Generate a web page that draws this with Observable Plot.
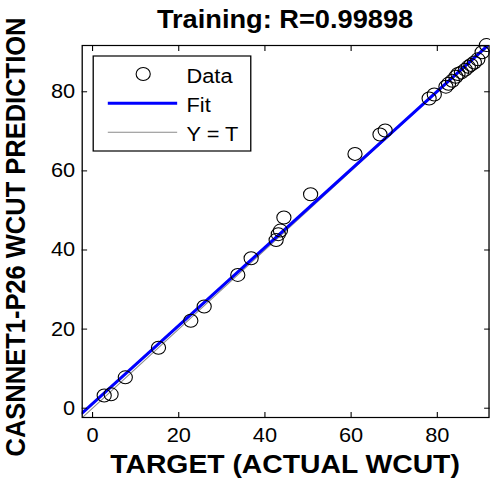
<!DOCTYPE html>
<html><head><meta charset="utf-8">
<script src="https://cdn.jsdelivr.net/npm/d3@7"></script>
<script src="https://cdn.jsdelivr.net/npm/@observablehq/plot@0.6"></script>
<style>body{margin:0;background:#fff} #chart svg{display:block}</style>
</head><body><div id="chart"></div>
<script>
// Data
const targets = [2.7, 4.3, 7.6, 15.3, 22.8, 25.9, 33.7, 36.8, 42.6, 43.1, 43.6, 44.4, 50.6, 60.9, 66.7, 67.9,
  78.1, 79.3, 82.0, 82.6, 83.5, 84.3, 84.8, 85.6, 86.5, 87.2, 87.8, 88.6, 89.4, 90.4, 91.4];
const outputs = [3.2, 3.5, 7.8, 15.3, 22.1, 25.7, 33.7, 37.9, 42.5, 44.0, 44.9, 48.2, 54.1, 64.3, 69.2, 70.2,
  78.3, 79.3, 81.3, 82.0, 82.8, 83.8, 84.5, 84.9, 85.6, 86.3, 86.8, 87.4, 88.2, 90.0, 91.8];
const fitCoef = [0.987, 1.17];          // Output ~= slope*Target + intercept
const xDomain = [-2.4, 92];
const yDomain = [-2.35, 91.7];
const xTicks = [0, 20, 40, 60, 80];
const yTicks = [0, 20, 40, 60, 80];
const titleText = "Training: R=0.99898";
const xLabel = "TARGET (ACTUAL WCUT)";
const yLabel = "CASNNET1-P26 WCUT PREDICTION";
const legendLabels = ["Data", "Fit", "Y = T"];

const points = targets.map((t, i) => ({t, y: outputs[i]}));
const fitLine = xDomain.map(t => ({t, y: fitCoef[0] * t + fitCoef[1]}));
const idLine = xDomain.map(t => ({t, y: t}));

const W = 450, H = 483, OUTW = 490;
const FONT = "'Liberation Sans', Arial, Helvetica, sans-serif";
const BLUE = "#0000ff", GRAY = "#8a8a8a";

const svg = Plot.plot({
  width: W, height: H,
  marginLeft: 75, marginRight: 1.4, marginTop: 45, marginBottom: 66,
  style: {fontFamily: FONT, fontSize: "20px", color: "black", background: "white", overflow: "visible"},
  x: {domain: xDomain},
  y: {domain: yDomain},
  marks: [
    Plot.line(idLine, {x: "t", y: "y", stroke: GRAY, strokeWidth: 1, clip: true}),
    Plot.line(fitLine, {x: "t", y: "y", stroke: BLUE, strokeWidth: 3, clip: true}),
    Plot.dot(points, {x: "t", y: "y", r: 6.5, stroke: "black", strokeWidth: 1, fill: "none"}),
    Plot.frame({stroke: "black", strokeWidth: 1.2}),
    Plot.axisX(xTicks, {anchor: "bottom", tickSize: -5, tickPadding: 15, label: null, stroke: "black", fill: "black"}),
    Plot.axisX(xTicks, {anchor: "top", tickSize: -5, tickFormat: () => "", label: null, stroke: "black"}),
    Plot.axisY(yTicks, {anchor: "left", tickSize: -5, tickPadding: 11.5, label: null, stroke: "black", fill: "black"}),
    Plot.axisY(yTicks, {anchor: "right", tickSize: -5, tickFormat: () => "", label: null, stroke: "black"})
  ]
});

// stretch horizontally like the reference image
svg.setAttribute("width", OUTW);
svg.setAttribute("height", H);
svg.setAttribute("preserveAspectRatio", "none");
svg.style.width = OUTW + "px";
svg.style.height = H + "px";
svg.style.maxWidth = "none";

const s = d3.select(svg);
const cx = (75 + (W - 1.4)) / 2;

s.append("text").attr("x", cx).attr("y", 28).attr("text-anchor", "middle")
  .attr("font-family", FONT).attr("font-weight", "bold").attr("font-size", 25).attr("fill", "black")
  .text(titleText);
s.append("text").attr("x", cx).attr("y", 473).attr("text-anchor", "middle")
  .attr("font-family", FONT).attr("font-weight", "bold").attr("font-size", 26).attr("fill", "black")
  .text(xLabel);
s.append("text").attr("transform", "translate(23,237) rotate(-90)").attr("text-anchor", "middle")
  .attr("font-family", FONT).attr("font-weight", "bold").attr("font-size", 25.5).attr("fill", "black")
  .text(yLabel);

// legend
const lg = s.append("g");
lg.append("rect").attr("x", 85.6).attr("y", 56).attr("width", 144.7).attr("height", 95)
  .attr("fill", "white").attr("stroke", "black").attr("stroke-width", 1.2);
lg.append("circle").attr("cx", 131.5).attr("cy", 74).attr("r", 6.5).attr("fill", "none").attr("stroke", "black");
lg.append("line").attr("x1", 99).attr("x2", 162.7).attr("y1", 103.3).attr("y2", 103.3).attr("stroke", BLUE).attr("stroke-width", 3);
lg.append("line").attr("x1", 99).attr("x2", 162.7).attr("y1", 132.3).attr("y2", 132.3).attr("stroke", GRAY).attr("stroke-width", 1);
[83, 112.5, 141.5].forEach((yy, i) => {
  lg.append("text").attr("x", 171.3).attr("y", yy).attr("text-anchor", "start")
    .attr("font-family", FONT).attr("font-size", 20).attr("fill", "black").text(legendLabels[i]);
});

document.getElementById("chart").appendChild(svg);
</script>
</body></html>
